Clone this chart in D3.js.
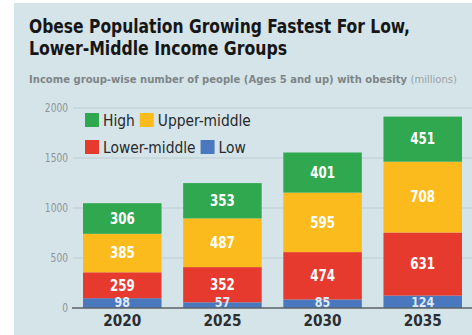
<!DOCTYPE html>
<html>
<head>
<meta charset="utf-8">
<script src="https://cdn.jsdelivr.net/npm/d3@7/dist/d3.min.js"></script>
<style>
  html, body { margin: 0; padding: 0; background: #ffffff; }
  svg { display: block; }
</style>
</head>
<body>
<svg id="chart" width="472" height="335"></svg>
<script>
// Obese population by income group (millions), ages 5 and up
const years = ["2020", "2025", "2030", "2035"];
const groups = ["Low", "Lower-middle", "Upper-middle", "High"];
const low = [98, 57, 85, 124];
const lowerMiddle = [259, 352, 474, 631];
const upperMiddle = [385, 487, 595, 708];
const high = [306, 353, 401, 451];
const yTicks = [0, 500, 1000, 1500, 2000];
const legendRows = [["High", "Upper-middle"], ["Lower-middle", "Low"]];

const colors = {
  "Low": "#4a78be",
  "Lower-middle": "#e63a2e",
  "Upper-middle": "#fbbb1c",
  "High": "#2fa84f"
};

const W = 472, H = 335;
const FONT = '"Liberation Sans Narrow", "DejaVu Sans Condensed", "Roboto Condensed", "DejaVu Sans", sans-serif';
const svg = d3.select("#chart");

// squeeze a text horizontally to a fraction of its natural width
function condense(sel, k) {
  sel.each(function () {
    const w = this.getComputedTextLength();
    d3.select(this).attr("textLength", w * k).attr("lengthAdjust", "spacingAndGlyphs");
  });
}

// panel background
svg.append("rect").attr("x", 14).attr("y", 3).attr("width", W - 14).attr("height", H - 3)
  .attr("fill", "#d5e4e9");

// title
const title = svg.append("g").attr("font-family", FONT).attr("font-weight", 700).attr("fill", "#161616");
title.append("text").attr("x", 29).attr("y", 33).attr("font-size", 20)
  .attr("textLength", 381).attr("lengthAdjust", "spacingAndGlyphs")
  .text("Obese Population Growing Fastest For Low,");
title.append("text").attr("x", 29).attr("y", 55).attr("font-size", 20)
  .attr("textLength", 258).attr("lengthAdjust", "spacingAndGlyphs")
  .text("Lower-Middle Income Groups");

const sub = svg.append("text").attr("x", 29).attr("y", 83)
  .attr("font-family", FONT).attr("font-size", 10.5)
  .attr("textLength", 428).attr("lengthAdjust", "spacingAndGlyphs");
sub.append("tspan").attr("font-weight", 700).attr("fill", "#7d8588")
  .text("Income group-wise number of people (Ages 5 and up) with obesity ");
sub.append("tspan").attr("fill", "#9aa2a5").text("(millions)");

// scales
const x = d3.scaleBand().domain(years).range([73, 472]).paddingInner(0.216).paddingOuter(0.1);
const y = d3.scaleLinear().domain([0, 2000]).range([308, 108]);

// gridlines
svg.append("g").selectAll("line").data(yTicks.filter(d => d > 0)).join("line")
  .attr("x1", 73).attr("x2", W).attr("y1", d => y(d)).attr("y2", d => y(d))
  .attr("stroke", "#bccdd3").attr("stroke-width", 1);

// y axis labels
const yAxis = d3.axisLeft(y).tickValues(yTicks).tickSize(0).tickPadding(0).tickFormat(d3.format("d"));
const ya = svg.append("g").attr("transform", "translate(68,0)").call(yAxis);
ya.select(".domain").remove();
ya.selectAll("text").attr("font-family", FONT).attr("font-size", 11.5).attr("fill", "#8d9597")
  .call(condense, 0.88);

// stacked data
const table = years.map((yr, i) => ({
  year: yr, "Low": low[i], "Lower-middle": lowerMiddle[i], "Upper-middle": upperMiddle[i], "High": high[i]
}));
const stack = d3.stack().keys(groups)(table);

const layers = svg.append("g").selectAll("g").data(stack).join("g")
  .attr("fill", d => colors[d.key]);
layers.selectAll("rect").data(d => d).join("rect")
  .attr("x", d => x(d.data.year))
  .attr("width", x.bandwidth())
  .attr("y", d => y(d[1]))
  .attr("height", d => y(d[0]) - y(d[1]));

// baseline axis
svg.append("line").attr("x1", 72).attr("x2", W).attr("y1", y(0)).attr("y2", y(0))
  .attr("stroke", "#5a6266").attr("stroke-width", 1.5);

// value labels: centred in each segment; the thin bottom band keeps its label just above the axis
const labels = svg.append("g").attr("font-family", FONT).attr("font-weight", 700)
  .attr("text-anchor", "middle");
stack.forEach(layer => {
  const isLow = layer.key === "Low";
  labels.selectAll(null).data(layer).join("text")
    .attr("x", d => x(d.data.year) + x.bandwidth() / 2)
    .attr("y", d => isLow ? 302.5 : (y(d[0]) + y(d[1])) / 2)
    .attr("dy", "0.35em")
    .attr("font-size", isLow ? 14 : 15)
    .attr("fill", isLow ? "#dfe8f7" : "#ffffff")
    .text(d => d[1] - d[0])
    .call(condense, 0.88);
});

// year labels
const xAxis = d3.axisBottom(x).tickSize(0).tickPadding(0);
const xa = svg.append("g").attr("transform", "translate(0,314)").call(xAxis);
xa.select(".domain").remove();
xa.selectAll("text").attr("font-family", FONT).attr("font-weight", 700)
  .attr("font-size", 16).attr("fill", "#2b2f31").attr("dy", "0.72em")
  .call(condense, 0.95);

// legend
const legend = svg.append("g").attr("font-family", FONT).attr("font-size", 16).attr("fill", "#25292b");
legendRows.forEach((row, r) => {
  let cx = 85;
  const cy = 120 + r * 27;
  row.forEach(key => {
    legend.append("rect").attr("x", cx).attr("y", cy - 7).attr("width", 14).attr("height", 14)
      .attr("fill", colors[key]);
    const t = legend.append("text").attr("x", cx + 18).attr("y", cy).attr("dy", "0.36em").text(key)
      .call(condense, 0.96);
    cx += 18 + +t.attr("textLength") + 5;
  });
});
</script>
</body>
</html>
